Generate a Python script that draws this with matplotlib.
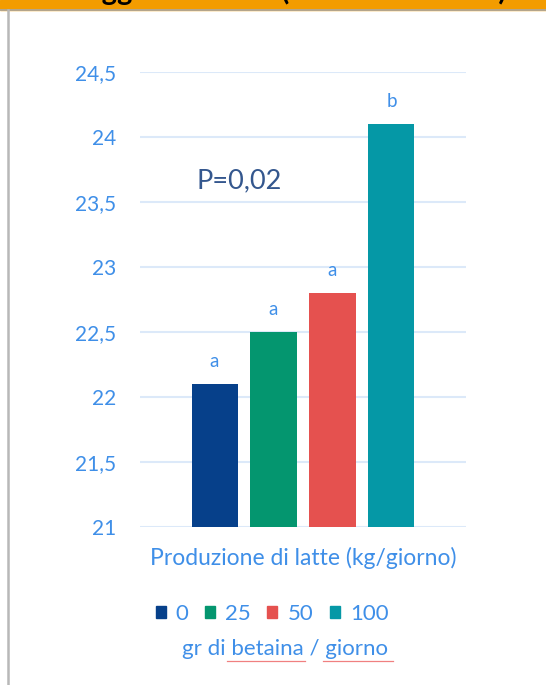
import matplotlib.pyplot as plt
from matplotlib.patches import Patch
from matplotlib.lines import Line2D

# data
doses = ['0', '25', '50', '100']
milk = [22.1, 22.5, 22.8, 24.1]
letters = ['a', 'a', 'a', 'b']
yticks = [21, 21.5, 22, 22.5, 23, 23.5, 24, 24.5]
ytick_labels = ['21', '21,5', '22', '22,5', '23', '23,5', '24', '24,5']

colors = ['#06408a', '#04966f', '#e5514f', '#0598a6']
blue_txt = '#3f8fe8'

plt.rcParams['font.family'] = ['Lato', 'DejaVu Sans']

fig = plt.figure(figsize=(5.46, 6.85), dpi=100)

# orange header band (title mostly cut off)
fig.add_artist(plt.Rectangle((0, 1 - 9.5 / 685), 1, 9.5 / 685, transform=fig.transFigure,
                             color='#f39c00', zorder=0))
fig.add_artist(Line2D([0, 1], [1 - 10 / 685, 1 - 10 / 685], transform=fig.transFigure,
                      color='#a8a8a8', lw=1.2))
fig.add_artist(Line2D([7.5 / 546, 7.5 / 546], [0, 1 - 10 / 685], transform=fig.transFigure,
                      color='#b8b8b8', lw=1.8))
fig.text(35 / 546, 1 - 0.3 / 685, 'Dosaggi di betaina (risultati sul latte)', fontsize=21,
         fontweight='bold', color='black', ha='left', va='baseline')

ax = fig.add_axes([140 / 546, 1 - 527 / 685, 326 / 546, 455 / 685])
x = range(len(doses))
bars = ax.bar(x, milk, width=0.78, color=colors, bottom=0, zorder=3)
ax.set_ylim(21, 24.5)
ax.set_xlim(-1.263, 4.263)
ax.set_yticks(yticks)
ax.set_yticklabels(ytick_labels)
ax.tick_params(axis='y', length=0, pad=17, labelsize=15, labelcolor=blue_txt)
ax.set_xticks([])
ax.grid(axis='y', color='#dce9f9', lw=1.5, zorder=0)
for s in ax.spines.values():
    s.set_visible(False)

for i, v in enumerate(milk):
    ax.annotate(letters[i], (i, v), xytext=(0, 10), textcoords='offset points',
                ha='center', va='bottom', fontsize=13.5, color=blue_txt)

ax.text(0.415, 23.66, 'P=0,02', fontsize=19.5, color='#34578e', ha='center', va='center')

ax.set_xlabel('Produzione di latte (kg/giorno)', fontsize=16.5, color=blue_txt, labelpad=14)

handles = [Patch(color=c) for c in colors]
fig.legend(handles, doses, loc='center', bbox_to_anchor=(272 / 546, 1 - 614 / 685), ncol=4,
           frameon=False, handlelength=0.45, handleheight=0.45, handletextpad=0.45,
           columnspacing=0.75, fontsize=16, labelcolor=blue_txt)

fig.text(285 / 546, 1 - 649 / 685, 'gr di betaina / giorno', fontsize=16, color=blue_txt,
         ha='center', va='center')
# spell-check underlines
for x0, x1 in [(227, 305), (323, 393)]:
    fig.add_artist(Line2D([x0 / 546, x1 / 546], [1 - 661 / 685, 1 - 661 / 685],
                          transform=fig.transFigure, color='#f08080', lw=0.9))

fig.savefig('out.png', dpi=100)
